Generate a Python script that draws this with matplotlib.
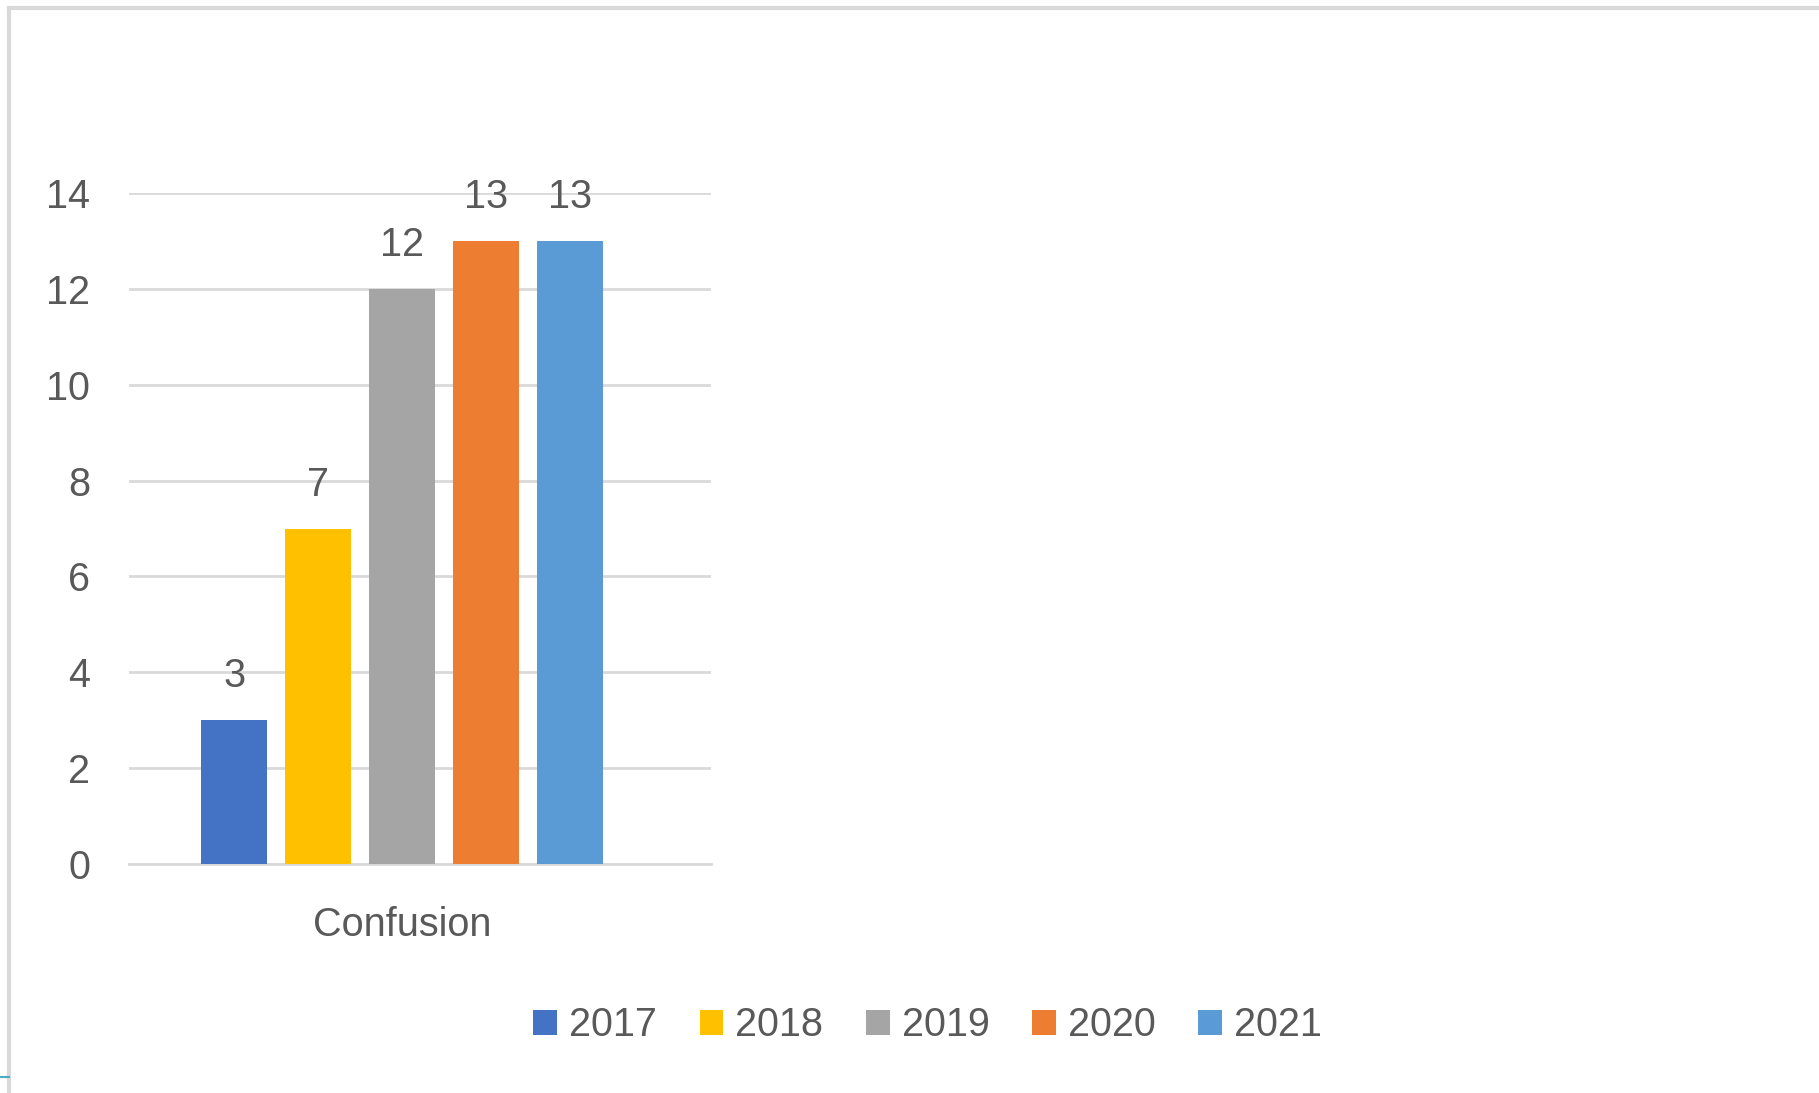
import numpy as np
import matplotlib
matplotlib.use("Agg")
import matplotlib.pyplot as plt
from matplotlib.lines import Line2D

plt.rcParams['font.family'] = ['Liberation Sans', 'DejaVu Sans']

category = "Confusion"
years = ["2017", "2018", "2019", "2020", "2021"]
values = [3, 7, 12, 13, 13]
colors = ["#4472C4", "#FFC000", "#A5A5A5", "#ED7D31", "#5B9BD5"]

txt = "#595959"
grid = "#D9D9D9"
fs = 28.5

fig = plt.figure(figsize=(18.19, 10.93), dpi=100)
ax = fig.add_axes([0.0709, 0.2095, 0.32, 0.6139])

step = 0.1442
width = 0.113
offsets = (np.arange(len(years)) - 2) * step
for off, v, c, y in zip(offsets, values, colors, years):
    ax.bar(off, v, width=width, color=c, label=y, zorder=3)
    ax.annotate(str(v), (off, v), xytext=(0, 18), textcoords="offset points",
                ha="center", va="bottom", fontsize=fs, color=txt)

ax.set_xlim(-0.469, 0.531)
ax.set_ylim(0, 14)
ax.set_yticks(range(0, 15, 2))
ax.set_xticks([0])
ax.set_xticklabels([category])
ax.tick_params(axis="both", length=0, labelsize=fs, colors=txt)
ax.tick_params(axis="y", pad=28)
ax.tick_params(axis="x", pad=30)
ax.yaxis.grid(True, color=grid, linewidth=2, zorder=0)
for s in ["top", "right", "left"]:
    ax.spines[s].set_visible(False)
ax.spines["bottom"].set_color(grid)
ax.spines["bottom"].set_linewidth(2)

handles, labels = ax.get_legend_handles_labels()
fig.legend(handles, labels, loc="center", bbox_to_anchor=(0.51, 0.062), ncol=5,
           frameon=False, fontsize=fs, labelcolor=txt, handlelength=0.6,
           handleheight=0.6, handletextpad=0.3, columnspacing=1.08)

# frame lines of the screenshot
fig.add_artist(Line2D([0.005, 1.0], [0.993, 0.993], color="#D9D9D9", linewidth=3))
fig.add_artist(Line2D([0.005, 0.005], [0.0, 0.993], color="#D9D9D9", linewidth=3))
fig.add_artist(Line2D([0.0, 0.005], [0.015, 0.015], color="#4BACC6", linewidth=1.5))

fig.savefig("out.png", dpi=100, facecolor="white")
